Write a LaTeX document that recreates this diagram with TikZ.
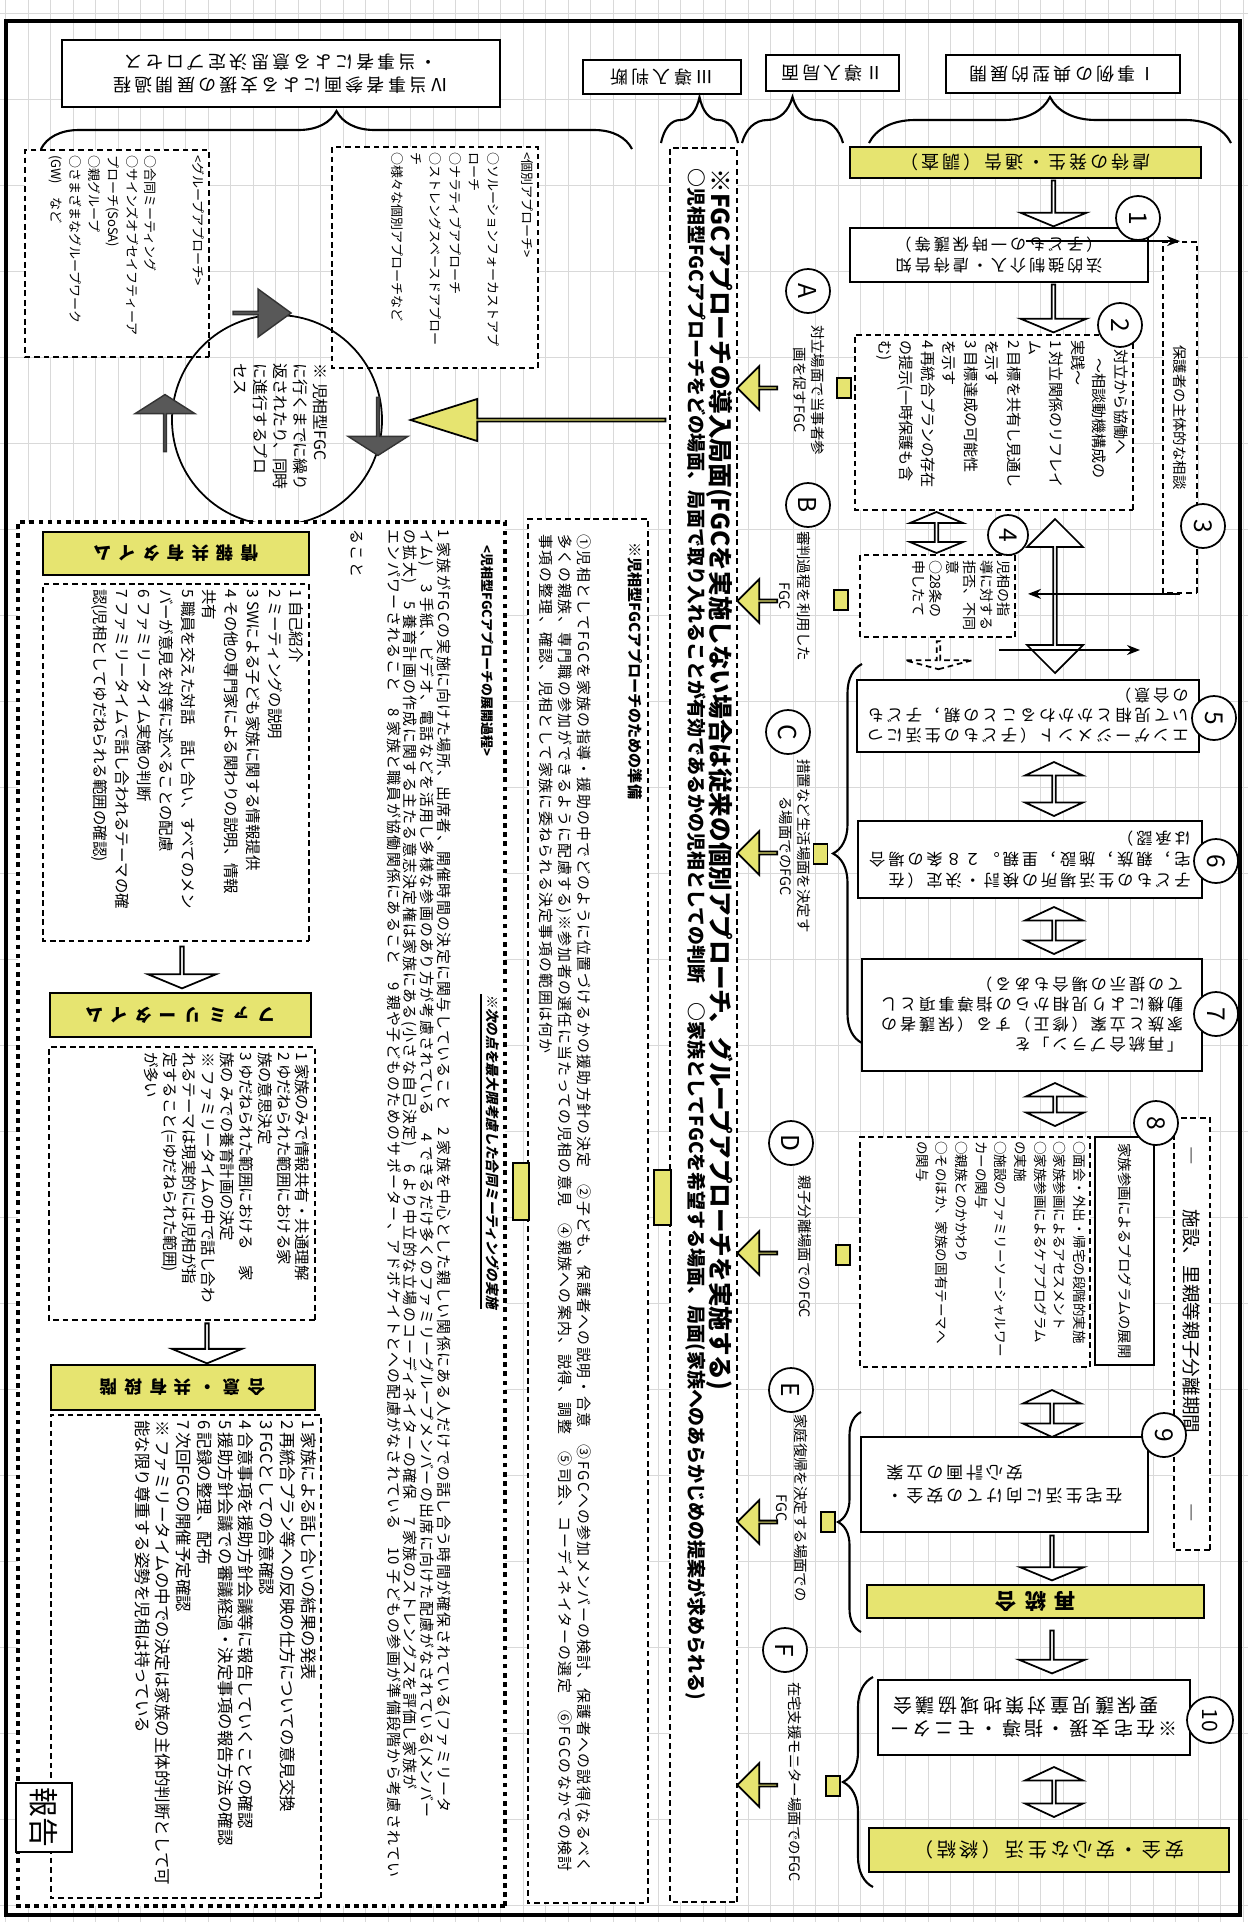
\documentclass[tikz,border=0pt]{standalone}
\usepackage{fontspec}
\setmainfont{Noto Sans CJK JP}
\newfontfamily\boxfont{Noto Sans CJK JP}[LetterSpace=18]
\newfontfamily\widefont{Noto Sans CJK JP}[LetterSpace=40]
\newfontfamily\bodyfont{Noto Sans CJK JP}[LetterSpace=9]
\newfontfamily\slantfont{Noto Sans CJK JP}[FakeSlant=0.2]
\usetikzlibrary{shapes.arrows,decorations.pathreplacing,arrows.meta}
\definecolor{fgcyellow}{RGB}{230,228,112}
\definecolor{fgcdark}{RGB}{88,88,88}
\newcommand{\fsz}[2]{\fontsize{#1}{#2}\selectfont}
\newcommand{\topbox}[3]{\parbox[c][#2][t]{#1}{\raggedright #3}}

\begin{document}
\begin{tikzpicture}[rotate=-90,transform shape,
    gridline/.style={gray!30,line width=0.25pt},
    sbox/.style={draw,fill=white,line width=0.6pt,inner sep=0pt,align=left},
    dbox/.style={draw,fill=white,line width=0.5pt,dash pattern=on 1.6pt off 1.1pt,inner sep=0.05cm},
    ybox/.style={draw,fill=fgcyellow,line width=0.7pt,inner sep=0pt},
    ytab/.style={ybox,line width=0.4pt,minimum width=0.2cm,minimum height=0.14cm},
    num/.style={circle,draw,fill=white,line width=0.5pt,inner sep=0pt,minimum size=0.44cm,font=\fsz{7}{7}},
    warrow/.style={single arrow,draw,fill=white,line width=0.5pt,inner sep=0pt,minimum width=0.66cm,single arrow head extend=0.15cm,single arrow tip angle=135},
    wdarrow/.style={double arrow,draw,fill=white,line width=0.5pt,inner sep=0pt,minimum width=0.58cm,double arrow head extend=0.14cm,double arrow tip angle=130},
    yarrow/.style={single arrow,draw,fill=fgcyellow,line width=0.5pt,inner sep=0pt,minimum width=0.44cm,minimum height=0.40cm,single arrow head extend=0.13cm,single arrow tip angle=90,rotate=-90},
    garrow/.style={single arrow,draw=black!80,fill=fgcdark,line width=0.4pt,inner sep=0pt},
    scene/.style={align=center,font=\fsz{4.1}{5.2}},
    bracket/.style={decorate,decoration={brace,amplitude=#1},line width=0.6pt},
    flow/.style={line width=0.5pt,-{Stealth[length=1.3mm,width=1mm]}}]
    \useasboundingbox (0,0) rectangle (19.22,12.48);
    \foreach \k in {0,...,55}
        \draw[gridline] (0,0.055+0.225*\k) -- (19.22,0.055+0.225*\k);
    \foreach \k in {0,...,22}
        \draw[gridline] (0.13+0.86*\k,0) -- (0.13+0.86*\k,12.48);
    \draw[line width=1.2pt] (0.21,0.06) rectangle (19.15,12.40);

    \node[sbox,rotate=-90,minimum width=2.34cm,minimum height=0.38cm,font=\boxfont\fsz{5.1}{6}] (hI) at (0.74,10.63) {Ⅰ事例の典型的展開};
    \node[sbox,rotate=-90,minimum width=1.33cm,minimum height=0.36cm,font=\boxfont\fsz{5.1}{6}] (hII) at (0.73,8.325) {Ⅱ導入局面};
    \node[sbox,rotate=-90,minimum width=1.58cm,minimum height=0.34cm,font=\boxfont\fsz{5.1}{6}] (hIII) at (0.77,6.62) {Ⅲ導入判断};
    \node[sbox,rotate=-90,minimum width=4.38cm,minimum height=0.67cm,align=center,font=\boxfont\fsz{5.1}{6.6}] (hIV) at (0.735,2.81) {Ⅳ当事者参画による支援の展開過程\\・当事者による意思決定プロセス};
    \draw[bracket=0.46cm] (1.43,8.69) -- (1.43,12.31);
    \draw[bracket=0.46cm] (1.43,7.42) -- (1.43,8.43);
    \draw[bracket=0.46cm] (1.43,6.61) -- (1.43,7.38);
    \draw[bracket=0.38cm] (1.49,0.41) -- (1.49,6.32);

    \node[ybox,rotate=-90,minimum width=3.51cm,minimum height=0.31cm,font=\boxfont\fsz{5.1}{6}] (yTop) at (1.625,10.255) {虐待の発生・通告（調査）};
    \node[warrow,minimum height=0.46cm] (a1) at (2.03,10.535) {};
    \node[sbox,rotate=-90,minimum width=2.98cm,minimum height=0.54cm,font=\boxfont\fsz{4.6}{6}] (box1) at (2.55,9.99) {法的強制介入・虐待告知\\（子どもの一時保護等）};
    \node[warrow,minimum height=0.48cm] (a2) at (3.08,10.535) {};
    \node[dbox,minimum width=1.75cm,minimum height=2.78cm,font=\fsz{4.3}{6.1}] (box2) at (4.225,9.94) {\topbox{1.65cm}{2.68cm}{\hspace*{0.6em}対立から協働へ\\\hspace*{1.2em}～相談動機構成の\\実践～\\1 対立関係のリフレイ\\ム\\2 目標を共有し見通し\\を示す\\3 目標達成の可能性\\を示す\\4 再統合プランの存在\\の提示(一時保護も含\\む)}};
    \node[dbox,minimum width=3.51cm,minimum height=0.34cm,font=\fsz{4.1}{5}] (hogo) at (4.175,11.80) {保護者の主体的な相談};
    \node[wdarrow,minimum height=1.54cm,minimum width=0.56cm,double arrow head extend=0.13cm,double arrow tip angle=90] (dR) at (5.96,10.55) {};
    \node[wdarrow,minimum height=0.41cm,minimum width=0.53cm,double arrow head extend=0.13cm,double arrow tip angle=135] (dS) at (5.325,9.365) {};
    \node[dbox,minimum width=0.82cm,minimum height=1.55cm,font=\fsz{4}{4.8}] (box4) at (5.96,9.375) {\topbox{0.72cm}{1.45cm}{児相の指\\導に対する\\拒否、不同\\意\\○28条の\\申したて}};
    \node[warrow,dash pattern=on 1.6pt off 1.1pt,minimum height=0.28cm,minimum width=0.67cm,single arrow head extend=0.17cm,single arrow tip angle=150] (aS) at (6.55,9.385) {};

    \node[sbox,rotate=-90,minimum width=3.42cm,minimum height=0.72cm,font=\boxfont\fsz{4.6}{5.7}] (box5) at (7.16,10.28) {エンゲージメント（子どもの生活につ\\いて児相とかかわることの親，子ども\\の合意）};
    \node[wdarrow,minimum height=0.54cm] (d56) at (7.89,10.54) {};
    \node[sbox,rotate=-90,minimum width=3.44cm,minimum height=0.77cm,font=\boxfont\fsz{4.6}{6}] (box6) at (8.595,10.30) {子どもの生活場所の検討・決定（在\\宅，親族，施設，里親。２８条の場合\\は承認）};
    \node[wdarrow,minimum height=0.47cm] (d67) at (9.305,10.54) {};
    \node[sbox,rotate=-90,minimum width=3.40cm,minimum height=1.12cm,font=\boxfont\fsz{4.6}{5.7}] (box7) at (10.15,10.32) {「再統合プラン」を\\家族と立案（修正）する（保護者の\\動機により児相からの指導事項とし\\ての提示の場合もある）};
    \node[wdarrow,minimum height=0.43cm] (d78) at (11.045,10.55) {};
    \draw[bracket=0.29cm] (10.43,8.62) -- (6.64,8.62);

    \node[sbox,minimum width=2.28cm,minimum height=0.59cm,font=\fsz{4.1}{5}] (kazoku) at (12.51,11.245) {家族参画によるプログラムの展開};
    \node[dbox,minimum width=2.30cm,minimum height=2.30cm,inner sep=0.04cm,font=\fsz{3.85}{5.6}] (list8) at (12.52,9.75) {\topbox{2.22cm}{2.22cm}{○面会・外出・帰宅の段階的実施\\○家族参画によるアセスメント\\○家族参画によるケアプログラム\\の実施\\○施設のファミリーソーシャルワー\\カーの関与\\○親族とのかかわり\\○そのほか、家族の固有テーマへ\\の関与}};
    \node[dbox,minimum width=4.32cm,minimum height=0.36cm,font=\fsz{5.3}{6}] (shisetsu) at (13.34,11.92) {―\hspace{0.45cm}施設、里親等親子分離期間\hspace{0.7cm}―};
    \node[wdarrow,minimum height=0.47cm] (d89) at (14.135,10.52) {};
    \node[sbox,rotate=-90,minimum width=2.87cm,minimum height=0.95cm,align=right,font=\boxfont\fsz{4.8}{6.5}] (box9) at (14.845,10.045) {在宅生活に向けての安全・\\安心計画の立案};
    \node[warrow,minimum height=0.45cm,minimum width=0.64cm] (a9) at (15.575,10.52) {};
    \node[ybox,rotate=-90,minimum width=3.37cm,minimum height=0.33cm,font=\widefont\bfseries\fsz{6}{7}] (yRe) at (16.015,10.355) {再統合};
    \node[warrow,minimum height=0.43cm] (a10) at (16.515,10.52) {};
    \node[sbox,rotate=-90,minimum width=3.12cm,minimum height=0.75cm,font=\boxfont\fsz{5.4}{6.6}] (box10) at (17.175,10.34) {※在宅支援・指導・モニター\\\phantom{※}要保護児童対策地域協議会};
    \node[wdarrow,minimum height=0.50cm] (d10) at (17.92,10.54) {};
    \node[ybox,rotate=-90,minimum width=3.60cm,minimum height=0.44cm,font=\boxfont\fsz{5.5}{6.5}] (ySafe) at (18.50,10.49) {安全・安心な生活（終結）};
    \draw[bracket=0.23cm] (16.32,8.61) -- (14.12,8.61);
    \draw[bracket=0.30cm] (18.87,8.73) -- (16.77,8.73);

    \node[num] (c1) at (2.18,11.38) {1};
    \node[num] (c2) at (3.25,11.20) {2};
    \node[num] (c3) at (5.26,12.03) {3};
    \node[num,minimum size=0.40cm] (c4) at (5.35,10.08) {4};
    \node[num] (c5) at (7.18,12.14) {5};
    \node[num] (c6) at (8.61,12.16) {6};
    \node[num] (c7) at (10.14,12.16) {7};
    \node[num] (c8) at (11.23,11.56) {8};
    \node[num] (c9) at (14.35,11.64) {9};
    \node[num,minimum size=0.46cm,font=\fsz{6}{6}] (c10) at (17.20,12.10) {10};
    \coordinate (drop) at (6.50,11.40);
    \draw[flow] (yTop.north -| hogo.west) -- (hogo.west);
    \draw[flow] (hogo.east) -- (hogo.east |- box5.south);
    \draw[flow] (box1.north -| drop) -- (drop);

    \node[dbox,minimum width=17.54cm,minimum height=0.67cm,inner sep=0pt] (fgc) at (10.25,7.035) {};
    \node[anchor=west,font=\bfseries\fsz{7}{8}] (fgcHead) at (1.56,7.20) {※FGCアプローチの導入局面(FGCを実施しない場合は従来の個別アプローチ、グループアプローチを実施する)};
    \node[anchor=west,font=\bfseries\fsz{5.4}{6}] (fgcNote) at (1.56,6.96) {○児相型FGCアプローチをどの場面、局面で取り入れることが有効であるかの児相としての判断　○家族としてFGCを希望する場面、局面(家族へのあらかじめの提案が求められる)};

    \node[num] (cA) at (2.91,8.08) {A};
    \node[scene] (lA) at (3.90,8.09) {対立場面で当事者参\\画を促すFGC};
    \node[yarrow] (yaA) at (3.88,7.58) {};
    \node[ytab] (tA) at (3.88,8.44) {};
    \node[num] (cB) at (5.05,8.08) {B};
    \node[scene] (lB) at (5.96,7.95) {審判過程を利用した\\FGC};
    \node[yarrow] (yaB) at (6.01,7.58) {};
    \node[ytab] (tB) at (6.00,8.41) {};
    \node[num] (cC) at (7.32,7.88) {C};
    \node[scene] (lC) at (8.46,7.95) {措置など生活場面を決定す\\る場面でのFGC};
    \node[yarrow] (yaC) at (8.53,7.58) {};
    \node[ytab] (tC) at (8.54,8.205) {};
    \node[num] (cD) at (11.43,7.91) {D};
    \node[scene] (lD) at (12.47,8.05) {親子分離場面でのFGC};
    \node[yarrow] (yaD) at (12.53,7.58) {};
    \node[ytab] (tD) at (12.55,8.43) {};
    \node[num] (cE) at (13.90,7.91) {E};
    \node[scene] (lE) at (15.08,7.92) {家庭復帰を決定する場面での\\FGC};
    \node[yarrow] (yaE) at (15.22,7.58) {};
    \node[ytab] (tE) at (15.22,8.28) {};
    \node[num] (cF) at (16.50,7.85) {F};
    \node[scene] (lF) at (17.82,7.95) {在宅支援モニター場面でのFGC};
    \node[yarrow] (yaF) at (17.85,7.58) {};
    \node[ytab] (tF) at (17.86,8.33) {};

    \node[dbox,minimum width=2.07cm,minimum height=1.84cm,font=\fsz{3.7}{5.4}] (group) at (2.535,1.17) {\topbox{1.97cm}{1.74cm}{<グループアプローチ>\\[8pt]○合同ミーティング\\○サインズオブセイフティーア\\プローチ(SoSA)\\○親グループ\\○さまざまなグループワーク\\(GW)\quad など}};
    \node[dbox,minimum width=2.21cm,minimum height=2.06cm,font=\fsz{3.7}{5.5}] (indiv) at (2.575,4.35) {\topbox{2.11cm}{1.96cm}{<個別アプローチ>\\[4pt]○ソルーションフォーカストアプ\\ローチ\\○ナラティブアプローチ\\○ストレングスベースドアプロー\\チ\\○様々な個別アプローチなど}};
    \node[circle,draw,line width=0.5pt,minimum size=2.10cm,inner sep=0pt] (cycle) at (4.20,2.77) {};
    \node[align=left,font=\fsz{4.5}{5.7}] (cycleText) at (4.27,2.81) {※ 児相型FGC\\に行くまでに繰り\\返されたり、同時\\に進行するプロ\\セス};
    \node[garrow,rotate=90,minimum height=0.58cm,minimum width=0.48cm,single arrow head extend=0.10cm,single arrow tip angle=72] (gTop) at (3.13,2.61) {};
    \node[garrow,minimum height=0.58cm,minimum width=0.60cm,single arrow head extend=0.15cm,single arrow tip angle=115] (gRight) at (4.26,3.78) {};
    \node[garrow,rotate=180,minimum height=0.57cm,minimum width=0.60cm,single arrow head extend=0.15cm,single arrow tip angle=115] (gLeft) at (4.235,1.65) {};
    \node[single arrow,draw,fill=fgcyellow,line width=0.5pt,inner sep=0pt,rotate=-90,minimum height=2.55cm,minimum width=0.42cm,single arrow head extend=0.11cm,single arrow tip angle=35] (yBig) at (4.20,5.405) {};

    \node[dbox,minimum width=13.84cm,minimum height=1.20cm,inner sep=0pt] (prep) at (12.11,5.88) {};
    \node[anchor=west,font=\bfseries\fsz{4.3}{5}] (prepHead) at (5.30,6.35) {※児相型FGCアプローチのための準備};
    \node[anchor=north west,align=left,inner sep=0pt,font=\bodyfont\fsz{4.25}{5.4}] (prepBody) at (5.34,5.92) {①児相としてFGCを家族の指導・援助の中でどのように位置づけるかの援助方針の決定　②子ども、保護者への説明・合意　③FGCへの参加メンバーの検討、保護者への説得(なるべく\\多くの親族、専門職の参加ができるように配慮する)※参加者の選任に当たっての児相の意見　④親族への案内、説得、調整　⑤司会、コーディネイターの選定　⑥FGCのなかでの検討\\事項の整理、確認、児相として家族に委ねられる決定事項の範囲は何か};

    \node[draw,fill=white,line width=1.3pt,dash pattern=on 1.3pt off 1.3pt,minimum width=13.84cm,minimum height=4.87cm,inner sep=0pt] (proc) at (12.14,2.615) {};
    \node[anchor=west,font=\bfseries\fsz{3.7}{4.5}] (procHead) at (5.33,4.87) {<児相型FGCアプローチの展開過程>};
    \node[anchor=west,font=\slantfont\bfseries\fsz{3.9}{4.5}] (procNote) at (9.82,4.89) {\underline{※次の点を最大限考慮した合同ミーティングの実施}};
    \node[anchor=north west,align=left,inner sep=0pt,font=\bodyfont\fsz{4.25}{4.8}] (procBody) at (5.29,4.52) {1 家族がFGCの実施に向けた場所、出席者、開催時間の決定に関与していること　2 家族を中心とした親しい関係にある人だけでの話し合う時間が確保されている(ファミリータ\\イム)　3 手紙、ビデオ、電話などを活用し多様な参画のあり方が考慮されている　4 できるだけ多くのファミリーグループメンバーの出席に向けた配慮がなされている(メンバー\\の拡大)　5 養育計画の作成に関する主たる意志決定権は家族にある(小さな自己決定)　6 より中立的な立場のコーディネイターの確保　7 家族のストレングスを評価し家族が\\エンパワーされること　8 家族と職員が協働関係にあること　9 親や子どものためのサポーター、アドボケイトとへの配慮がなされている　10 子どもの参画が準備段階から考慮されてい\\[0.2cm]ること};

    \node[ybox,rotate=-90,minimum width=2.66cm,minimum height=0.43cm,font=\widefont\bfseries\fsz{5}{6}] (yInfo) at (5.535,1.76) {情報共有タイム};
    \node[dbox,minimum width=3.57cm,minimum height=2.66cm,font=\fsz{4.4}{6.2}] (dInfo) at (7.625,1.76) {\topbox{3.47cm}{2.56cm}{1 自己紹介\\2 ミーティングの説明\\3 SWによる子ども家族に関する情報提供\\4 その他の専門家による関わりの説明、情報\\共有\\5 職員を交えた対話　話し合い、すべてのメン\\バーが意見を対等に述べることの配慮\\6 ファミリータイム実施の判断\\7 ファミリータイムで話し合われるテーマの確\\認(児相としてゆだねられる範囲の確認)}};
    \node[warrow,minimum height=0.42cm,minimum width=0.68cm,single arrow head extend=0.16cm] (aInfo) at (9.67,1.82) {};
    \node[ybox,rotate=-90,minimum width=2.61cm,minimum height=0.44cm,font=\widefont\bfseries\fsz{5}{6}] (yFam) at (10.15,1.805) {ファミリータイム};
    \node[dbox,minimum width=2.73cm,minimum height=2.66cm,font=\fsz{4.4}{5.4}] (dFam) at (11.835,1.82) {\topbox{2.63cm}{2.56cm}{1 家族のみで情報共有・共通理解\\2 ゆだねられた範囲における家\\族の意思決定\\3 ゆだねられた範囲における　家\\族の みでの養育計画の決定\\※ ファミリータイムの中で話し合わ\\れるテーマは現実的には児相が指\\定すること(=ゆだねられた範囲)\\が多い}};
    \node[warrow,minimum height=0.40cm,minimum width=0.70cm,single arrow head extend=0.17cm] (aFam) at (13.43,2.07) {};
    \node[ybox,rotate=-90,minimum width=2.64cm,minimum height=0.45cm,font=\widefont\bfseries\fsz{5}{6}] (yAgree) at (13.875,1.83) {合意・共有段階};
    \node[dbox,minimum width=4.83cm,minimum height=2.70cm,font=\fsz{4.7}{5.9}] (dAgree) at (16.565,1.86) {\topbox{4.73cm}{2.60cm}{1 家族による話し合いの結果の発表\\2 再統合プラン等への反映の仕方についての意見交換\\3 FGCとしての合意確認\\4 合意事項を援助方針会議等に報告していくことの確認\\5 援助方針会議での審議経過・決定事項の報告方法の確認\\6 記録の整理、配布\\7 次回FGCの開催予定確認\\※ ファミリータイムの中での決定は家族の主体的判断として可\\能な限り尊重する姿勢を児相は持っている}};

    \node[ytab,minimum width=0.57cm,minimum height=0.16cm] (yc1) at (11.915,5.21) {};
    \node[ytab,minimum width=0.55cm,minimum height=0.17cm] (yc2) at (11.975,6.625) {};
    \node[sbox,minimum width=0.69cm,minimum height=0.56cm,font=\fsz{8.5}{9}] (report) at (18.175,0.44) {報告};
\end{tikzpicture}
\end{document}
